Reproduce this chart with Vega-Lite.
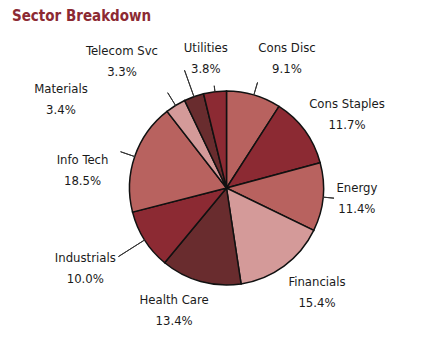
{
  "$schema": "https://vega.github.io/schema/vega-lite/v6.json",
  "width": 399,
  "height": 300,
  "autosize": {"type": "none"},
  "padding": {"left": 27, "top": 38, "right": 0, "bottom": 6},
  "background": "white",
  "title": {
    "text": "Sector Breakdown",
    "anchor": "start",
    "frame": "group",
    "font": "Liberation Sans Narrow, DejaVu Sans Condensed, Roboto, sans-serif",
    "fontSize": 15,
    "fontWeight": "bold",
    "color": "#8c2a33",
    "baseline": "top",
    "offset": 0,
    "dx": -15,
    "dy": -14
  },
  "data": {
    "values": [
      {"sector": "Cons Disc", "pct": 9.1},
      {"sector": "Cons Staples", "pct": 11.7},
      {"sector": "Energy", "pct": 11.4},
      {"sector": "Financials", "pct": 15.4},
      {"sector": "Health Care", "pct": 13.4},
      {"sector": "Industrials", "pct": 10.0},
      {"sector": "Info Tech", "pct": 18.5},
      {"sector": "Materials", "pct": 3.4},
      {"sector": "Telecom Svc", "pct": 3.3},
      {"sector": "Utilities", "pct": 3.8}
    ]
  },
  "transform": [
    {"calculate": "datum.sector + '\\n' + format(datum.pct, '.1f') + '%'", "as": "label"}
  ],
  "encoding": {
    "theta": {"field": "pct", "type": "quantitative", "stack": true},
    "order": {"field": "sector", "sort": "ascending"}
  },
  "layer": [
    {
      "mark": {"type": "arc", "radius": 97, "stroke": "#111111", "strokeWidth": 1.5},
      "encoding": {
        "color": {
          "field": "sector",
          "type": "nominal",
          "legend": null,
          "scale": {
            "domain": ["Cons Disc", "Cons Staples", "Energy", "Financials", "Health Care", "Industrials", "Info Tech", "Materials", "Telecom Svc", "Utilities"],
            "range": ["#b8625f", "#8c2a33", "#b8625f", "#d49a99", "#692c2e", "#8c2a33", "#b8625f", "#d49a99", "#692c2e", "#8c2a33"]
          }
        }
      }
    },
    {
      "mark": {
        "type": "arc",
        "padAngle": 3.14,
        "radius2": 97,
        "radius": {"expr": "[110, 97, 108, 97, 97, 128, 112, 112, 125, 103][indexof(['Cons Disc','Cons Staples','Energy','Financials','Health Care','Industrials','Info Tech','Materials','Telecom Svc','Utilities'], datum.sector)]"},
        "fill": null,
        "stroke": "#333333",
        "strokeWidth": 1
      },
      "encoding": {"detail": {"field": "sector", "type": "nominal"}}
    },
    {
      "mark": {
        "type": "text",
        "radius": 140,
        "font": "Liberation Sans Narrow, DejaVu Sans Condensed, Roboto, sans-serif",
        "fontSize": 13,
        "lineBreak": "\n",
        "lineHeight": 21,
        "align": "center",
        "baseline": "middle",
        "color": "#1a1a1a",
        "dx": {"expr": "[21, 7.5, -9, 7.5, -15, -23, -11.5, -92, -57.5, -4][indexof(['Cons Disc','Cons Staples','Energy','Financials','Health Care','Industrials','Info Tech','Materials','Telecom Svc','Utilities'], datum.sector)]"},
        "dy": {"expr": "[-5.5, -1.5, -13.5, -18.5, -22.5, -5, 17, 20, -5.5, -0.5][indexof(['Cons Disc','Cons Staples','Energy','Financials','Health Care','Industrials','Info Tech','Materials','Telecom Svc','Utilities'], datum.sector)]"}
      },
      "encoding": {
        "detail": {"field": "sector", "type": "nominal"},
        "text": {"field": "label", "type": "nominal"}
      }
    }
  ]
}
